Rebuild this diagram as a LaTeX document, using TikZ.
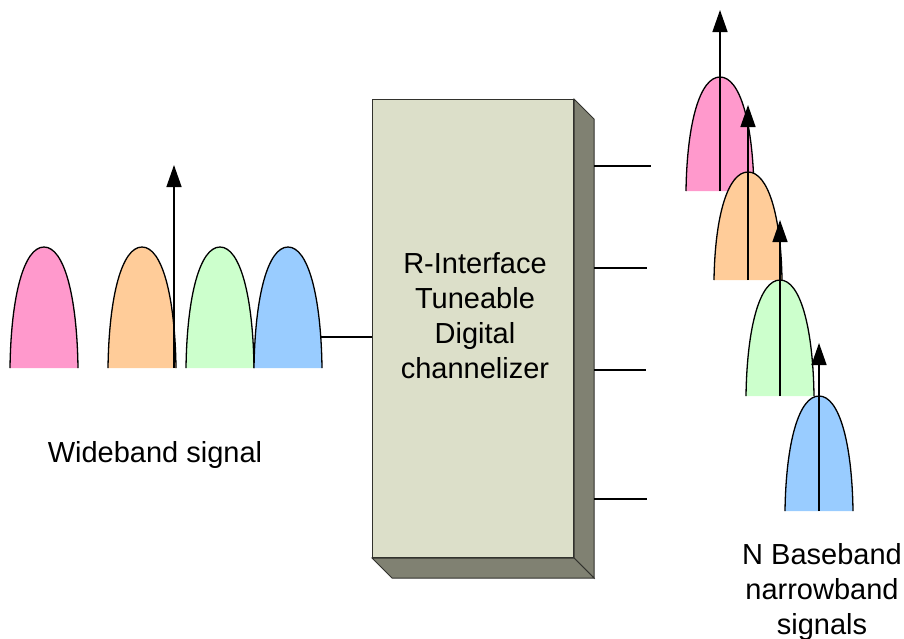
\documentclass[tikz,border=0pt]{standalone}
\usepackage{fontspec}
\setmainfont{Liberation Sans}
\usetikzlibrary{arrows.meta,calc}
\definecolor{bpink}{HTML}{FF99CC}
\definecolor{borange}{HTML}{FFCC99}
\definecolor{bgreen}{HTML}{CCFFCC}
\definecolor{bblue}{HTML}{99CCFF}
\definecolor{boxfront}{RGB}{220,223,201}
\definecolor{boxside}{RGB}{128,129,114}
\definecolor{boxline}{RGB}{50,50,45}

\begin{document}
\begin{tikzpicture}[x=1pt, y=-1pt, line width=1.4pt,
  every node/.style={font=\fontsize{29}{35}\selectfont},
  bell/.style={draw=black, line width=1.3pt},
  tone/.style={-{Triangle[length=22pt,width=15pt]}, line width=1.4pt}]
\useasboundingbox (0,0) rectangle (904,638);
% wideband spectrum
\foreach \cx/\col in {44/bpink,142/borange,220/bgreen,288/bblue}
  \draw[bell, fill=\col] (\cx-34,368) .. controls (\cx-33,368-0.6*121) and (\cx-20,368-121) .. (\cx,368-121)
    .. controls (\cx+20,368-121) and (\cx+33,368-0.6*121) .. (\cx+34,368);
\coordinate (wtone) at (174,368);
\draw[tone] (wtone) -- ++(0,-203);
\node (wide) at (155,455) {Wideband signal};
% channelizer box
\node[draw=boxline, line width=1pt, fill=boxfront, minimum width=201pt, minimum height=458pt, anchor=north west, inner sep=0pt] (chan) at (372,99) {};
\filldraw[boxside, draw=boxline, line width=1pt] (chan.north east) -- ++(20,20) -- ($(chan.south east)+(20,20)$) -- (chan.south east) -- cycle;
\filldraw[boxside, draw=boxline, line width=1pt] (chan.south west) -- ++(20,20) -- ($(chan.south east)+(20,20)$) -- (chan.south east) -- cycle;
\node[align=center] (chanlabel) at ($(chan.center)+(2,-13)$) {R-Interface\\Tuneable\\Digital\\channelizer};
\coordinate (wb) at (321,337);
\draw (wb) -- (wb -| chan.west);
\coordinate (side) at ($(chan.east)+(20,0)$);
\foreach \y/\e in {166/651,268/647,370/646,499/647} {
  \coordinate (out) at (\e,\y);
  \draw (out -| side) -- (out);
}
% narrowband outputs
\foreach \cx/\by/\h/\tip/\col in {720/191/114/10/bpink,748/280/108/105/borange,780/396/116/220/bgreen,819/511/115/343/bblue} {
  \draw[bell, fill=\col] (\cx-34,\by) .. controls (\cx-33,\by-0.6*\h) and (\cx-20,\by-\h) .. (\cx,\by-\h)
    .. controls (\cx+20,\by-\h) and (\cx+33,\by-0.6*\h) .. (\cx+34,\by);
  \draw[tone] (\cx,\by) -- (\cx,\tip);
}
\node[align=center] (narrow) at (822,592) {N Baseband\\narrowband\\signals};
\end{tikzpicture}
\end{document}
